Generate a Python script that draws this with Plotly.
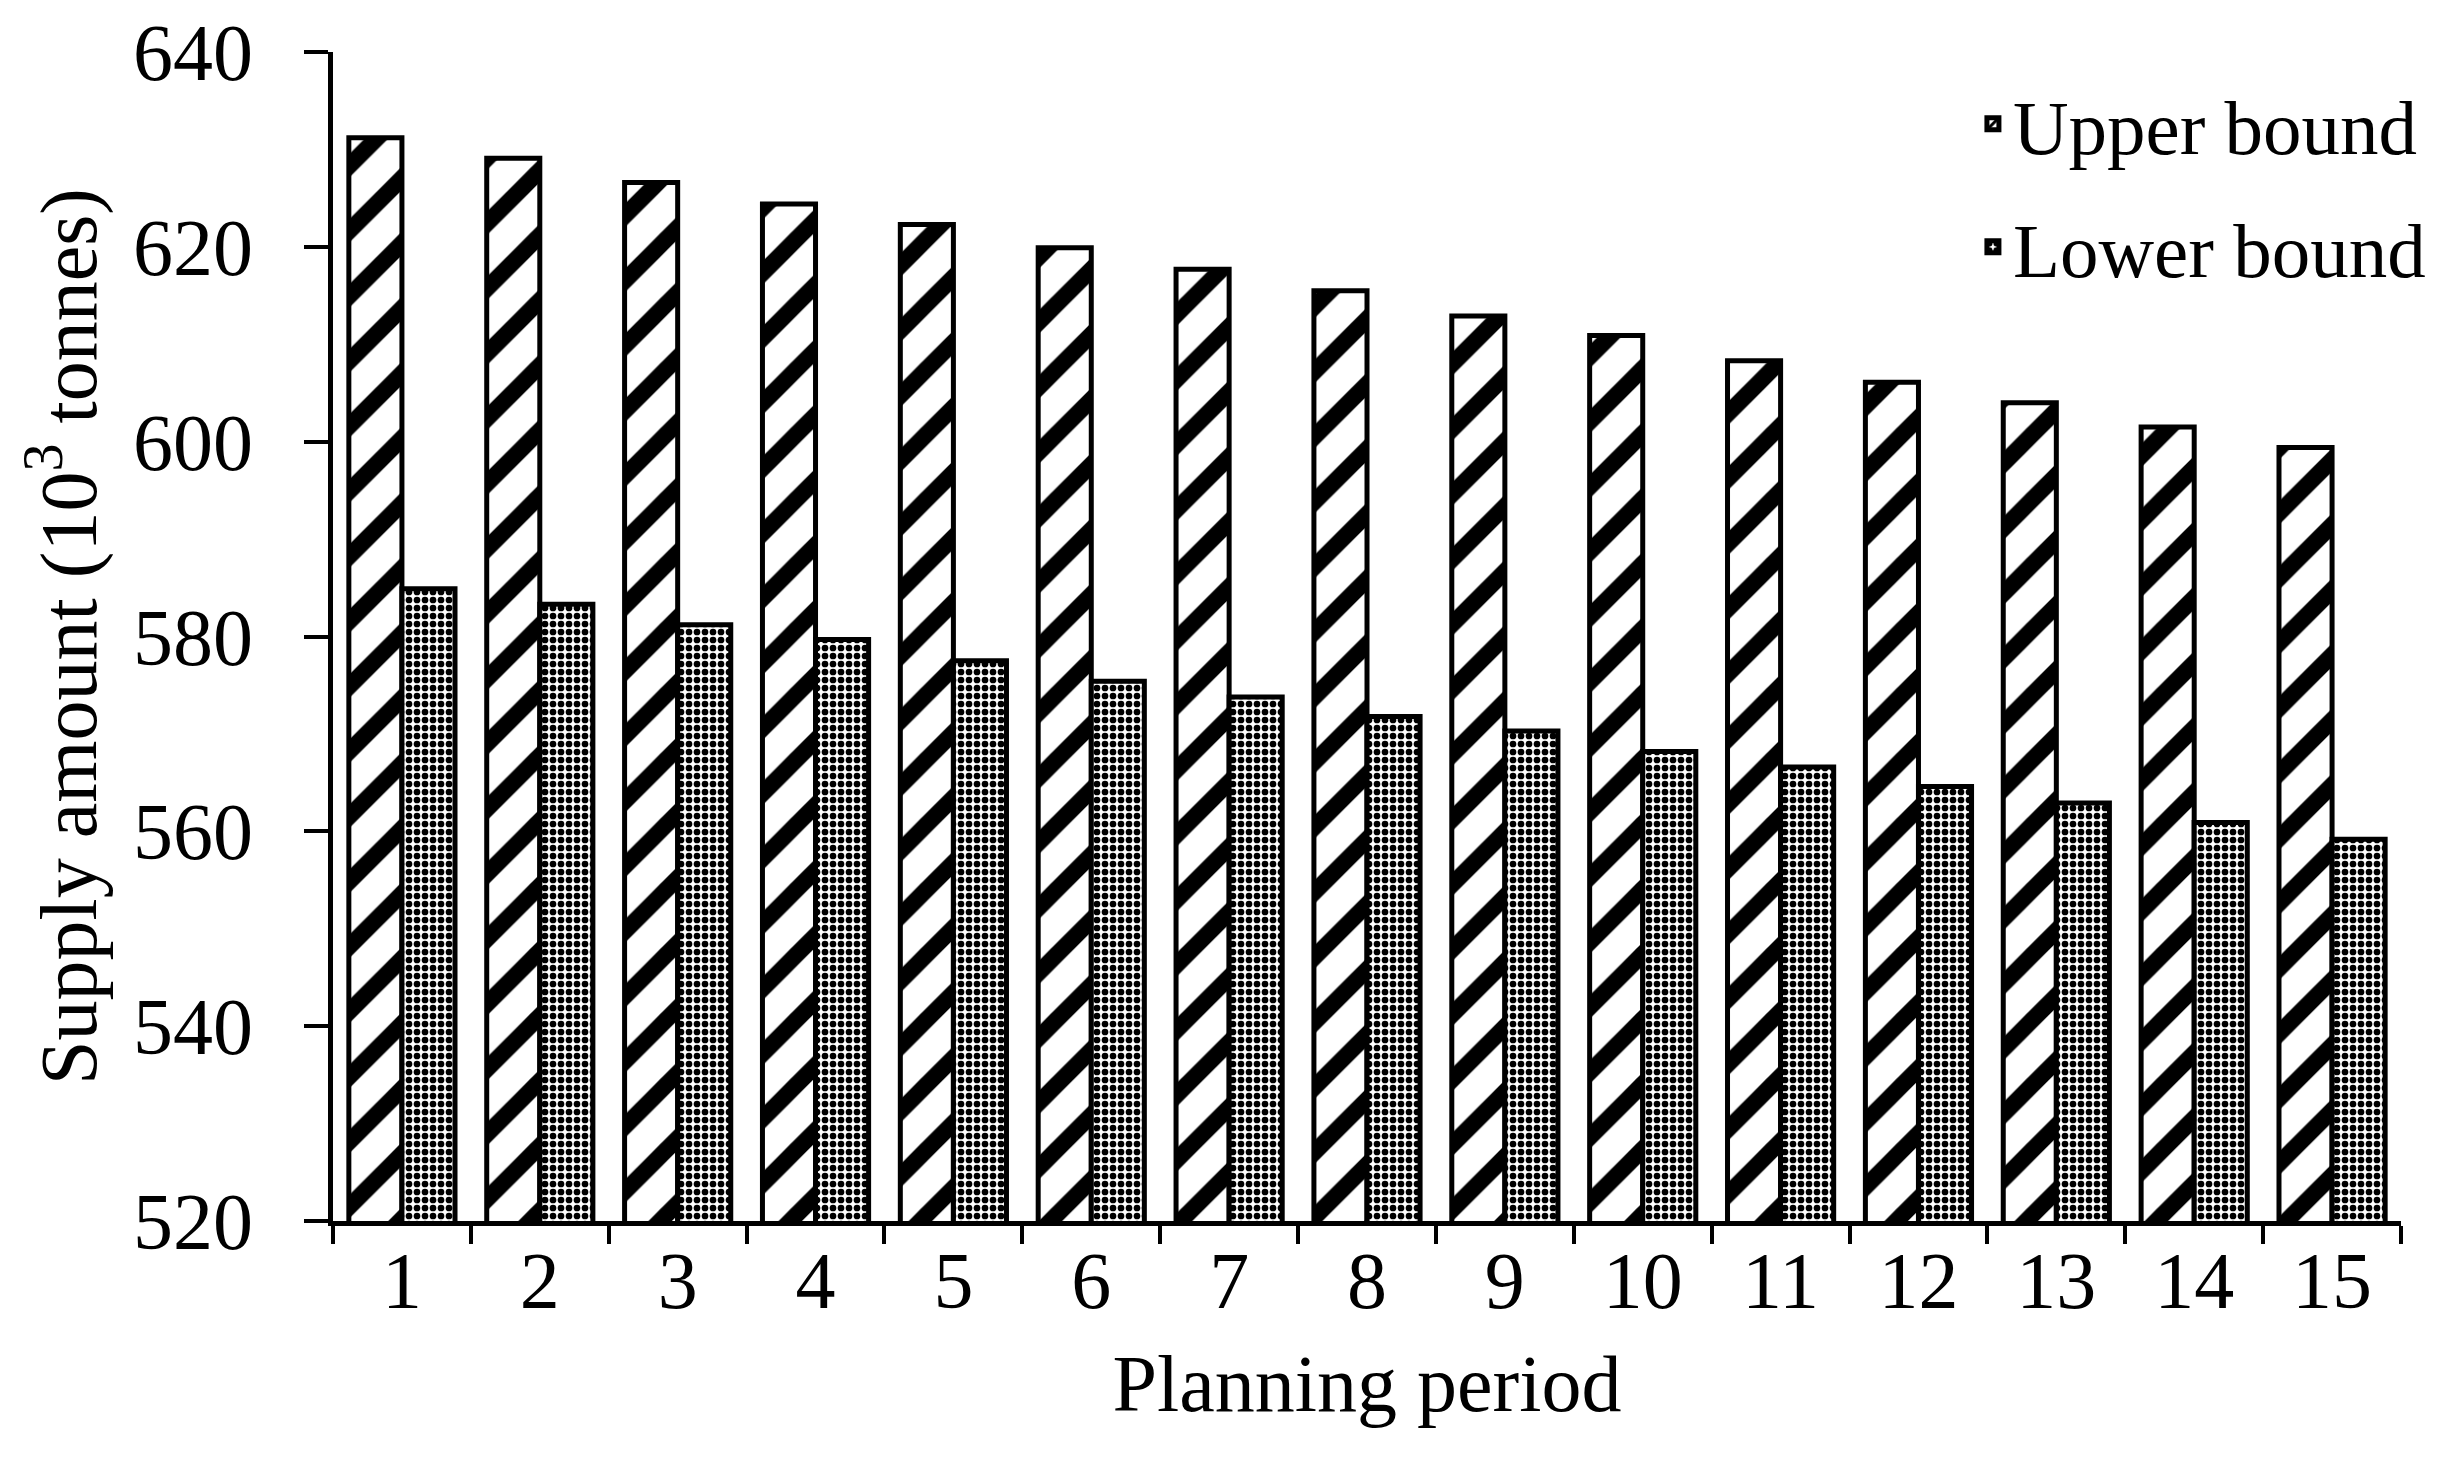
import plotly.graph_objects as go

periods = [str(i) for i in range(1, 16)]
upper_bound = [631.2, 629.1, 626.6, 624.4, 622.3, 619.9, 617.7, 615.5, 612.9, 610.9, 608.3, 606.1, 604.0, 601.5, 599.4]
lower_bound = [584.9, 583.3, 581.2, 579.7, 577.5, 575.4, 573.8, 571.8, 570.3, 568.2, 566.6, 564.6, 562.9, 560.9, 559.2]
y_ticks = [520, 540, 560, 580, 600, 620, 640]

FONT = "Liberation Serif, Times New Roman, serif"
FS = 80

fig = go.Figure()
fig.add_trace(go.Bar(
    x=periods, y=upper_bound, name="Upper bound", legendgroup="u",
    marker=dict(color="white", line=dict(color="black", width=5),
                pattern=dict(shape="/", fgcolor="black", bgcolor="white", fgopacity=1,
                             size=46, solidity=0.36, fillmode="replace")),
))
fig.add_trace(go.Bar(
    x=periods, y=lower_bound, name="Lower bound", legendgroup="l",
    marker=dict(color="white", line=dict(color="black", width=5),
                pattern=dict(shape=".", fgcolor="black", bgcolor="white", fgopacity=1,
                             size=8, solidity=0.55, fillmode="replace")),
))

# the page body adds an 8px offset, so margins are reduced accordingly
fig.update_layout(
    width=2450, height=1458,
    paper_bgcolor="white", plot_bgcolor="white",
    margin=dict(l=325, r=57, t=44, b=245),
    barmode="group", bargap=0.23, bargroupgap=0.0,
    font=dict(family=FONT, size=FS, color="black"),
    legend=dict(x=0.793, y=0.987, xanchor="left", yanchor="top",
                traceorder="grouped", tracegroupgap=20,
                font=dict(family=FONT, size=77, color="black"),
                bgcolor="rgba(0,0,0,0)"),
    showlegend=True,
)
fig.update_xaxes(
    type="category", range=[-0.5, 14.5], automargin=False,
    showline=True, linecolor="black", linewidth=5,
    ticks="outside", ticklen=18, tickwidth=4, tickcolor="black",
    tickson="boundaries", showgrid=False, zeroline=False,
    ticklabelstandoff=-14,
    title=dict(text="Planning period", standoff=32, font=dict(family=FONT, size=FS)),
    tickfont=dict(family=FONT, size=FS),
)
fig.update_yaxes(
    range=[520, 640], tickvals=y_ticks, ticktext=[str(v) for v in y_ticks], automargin=False,
    showline=True, linecolor="black", linewidth=5,
    ticks="outside", ticklen=24, tickwidth=4, tickcolor="black",
    showgrid=False, zeroline=False,
    ticklabelstandoff=35,
    title=dict(text="Supply amount (10<sup>3</sup> tonnes)", standoff=12, font=dict(family=FONT, size=FS)),
    tickfont=dict(family=FONT, size=FS),
)

fig.write_html("out.html")
